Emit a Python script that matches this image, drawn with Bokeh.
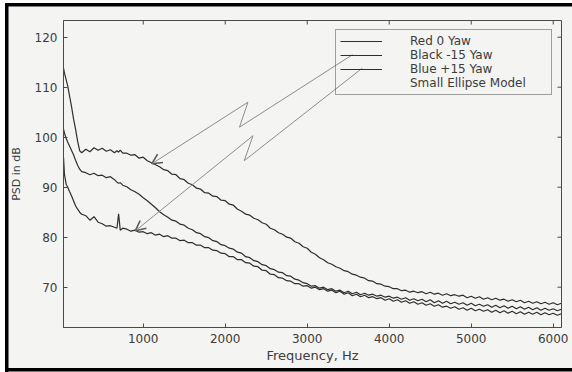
from bokeh.plotting import figure
from bokeh.models import (Range1d, FixedTicker, Legend, LegendItem, Arrow, OpenHead)
from bokeh.embed import file_html
from bokeh.resources import INLINE

# ---------------- data ----------------
FREQ_HEAD = [28, 40, 60, 80, 100, 125, 150, 175, 200, 225, 250, 300, 350, 400,
             450, 500, 550, 600, 650, 680, 700, 720, 750]
FREQ_TAIL = list(range(800, 6101, 50))
freq = FREQ_HEAD + FREQ_TAIL

# Black -15 Yaw (upper curve)
black_head = [113.8, 112.8, 111.5, 110.2, 108.4, 106.2, 103.7, 101.6, 99.2, 97.3,
              96.9, 97.6, 97.1, 97.9, 97.4, 97.8, 97.2, 97.5, 96.9, 97.3, 97.0, 97.4, 96.8]
black_tail = [96.8, 96.4, 96.5, 95.8, 96.0, 95.3, 94.9, 94.5, 94.1, 93.5,
              93.3, 92.6, 92.5, 91.7, 91.5, 90.8, 90.5, 89.8, 89.6, 88.9,
              88.8, 88.2, 88.1, 87.4, 87.3, 86.6, 86.4, 85.6, 85.2, 84.6,
              84.4, 83.8, 83.5, 82.9, 82.6, 81.8, 81.5, 80.9, 80.6, 80.0,
              79.8, 79.1, 78.8, 78.1, 77.8, 77.0, 76.6, 75.9, 75.5, 74.9,
              74.6, 74.1, 73.8, 73.3, 73.1, 72.6, 72.4, 72.0, 71.8, 71.3,
              71.2, 70.7, 70.6, 70.2, 70.1, 69.7, 69.7, 69.3, 69.4, 69.0,
              69.2, 68.9, 69.1, 68.7, 69.0, 68.6, 68.8, 68.4, 68.7, 68.3,
              68.5, 68.2, 68.4, 67.9, 68.2, 67.8, 68.1, 67.6, 67.9, 67.5,
              67.8, 67.4, 67.6, 67.2, 67.5, 67.1, 67.4, 66.9, 67.2, 66.8,
              67.1, 66.7, 67.0, 66.6, 66.9, 66.5, 66.8]

# Red 0 Yaw (middle curve)
red_head = [101.6, 100.8, 99.8, 99.0, 98.3, 97.4, 96.5, 95.4, 94.4, 93.6,
            93.1, 92.9, 92.5, 92.8, 92.3, 92.4, 91.9, 92.1, 91.5, 91.0, 90.8, 90.9, 90.4]
red_tail = [90.1, 89.5, 89.1, 88.6, 87.9, 87.3, 86.6, 85.9, 85.1, 84.5,
            84.0, 83.4, 83.2, 82.6, 82.4, 81.8, 81.5, 80.9, 80.7, 80.1,
            79.9, 79.3, 79.1, 78.5, 78.3, 77.8, 77.6, 77.0, 76.8, 76.1,
            75.9, 75.3, 75.1, 74.5, 74.3, 73.7, 73.5, 73.0, 72.9, 72.3,
            72.2, 71.6, 71.4, 70.9, 70.7, 70.2, 70.3, 69.8, 70.0, 69.5,
            69.7, 69.2, 69.4, 68.9, 69.2, 68.7, 69.0, 68.5, 68.8, 68.4,
            68.6, 68.2, 68.4, 68.0, 68.2, 67.8, 68.0, 67.6, 67.9, 67.4,
            67.7, 67.3, 67.6, 67.1, 67.5, 66.9, 67.3, 66.8, 67.2, 66.7,
            67.0, 66.6, 66.9, 66.4, 66.8, 66.3, 66.6, 66.2, 66.5, 66.0,
            66.4, 65.9, 66.3, 65.8, 66.2, 65.7, 66.1, 65.6, 66.0, 65.5,
            65.9, 65.4, 65.8, 65.4, 65.7, 65.3, 65.6]

# Blue +15 Yaw (lower curve)
blue_head = [96.0, 92.5, 90.6, 90.0, 89.2, 88.3, 87.3, 86.3, 85.6, 85.0,
             84.6, 84.3, 83.4, 84.1, 83.0, 82.7, 82.2, 82.3, 82.0, 81.8, 84.7, 81.4, 81.8]
blue_tail = [81.6, 81.2, 81.4, 81.0, 81.1, 80.7, 80.9, 80.4, 80.6, 80.1,
             80.3, 79.8, 79.8, 79.3, 79.4, 78.9, 78.9, 78.4, 78.4, 77.9,
             77.9, 77.4, 77.3, 76.8, 76.7, 76.1, 76.1, 75.5, 75.5, 74.9,
             74.8, 74.2, 74.1, 73.4, 73.3, 72.6, 72.5, 71.9, 71.8, 71.3,
             71.2, 70.7, 70.7, 70.2, 70.3, 69.8, 70.0, 69.5, 69.7, 69.2,
             69.4, 68.9, 69.2, 68.6, 68.9, 68.3, 68.6, 68.1, 68.4, 67.9,
             68.1, 67.7, 67.9, 67.4, 67.7, 67.2, 67.5, 67.0, 67.3, 66.8,
             67.1, 66.6, 66.9, 66.4, 66.7, 66.2, 66.5, 66.0, 66.2, 65.8,
             66.1, 65.6, 65.9, 65.4, 65.8, 65.3, 65.6, 65.2, 65.5, 65.0,
             65.4, 64.9, 65.3, 64.8, 65.2, 64.7, 65.1, 64.6, 65.0, 64.6,
             65.0, 64.5, 64.9, 64.5, 64.8, 64.4, 64.7]

black_db = black_head + black_tail
red_db = red_head + red_tail
blue_db = blue_head + blue_tail

legend_labels = ["Red 0 Yaw", "Black -15 Yaw", "Blue +15 Yaw", "Small Ellipse Model"]
x_ticks = [1000, 2000, 3000, 4000, 5000, 6000]
y_ticks = [70, 80, 90, 100, 110, 120]

# annotation arrows (zig-zag), data units
arrow_black_f = [3552, 2174, 2277, 1106]
arrow_black_db = [116.5, 102.0, 107.0, 94.7]
arrow_blue_f = [3671, 2232, 2339, 906]
arrow_blue_db = [113.8, 95.3, 100.3, 81.3]

# ---------------- figure ----------------
X0, X1 = 28, 6101
Y0, Y1 = 61.94, 123.34
W, H = 572, 372
ML, MR, MT, MB = 63, 11, 20, 45
FW, FH = W - ML - MR, H - MT - MB

BG = "#f4f4f2"
CURVE = "#2e2e2e"
AXIS = "#4a4a4a"
TXT = "#3c3c3c"
FONT = "DejaVu Sans"

p = figure(width=W, height=H, output_backend="svg", toolbar_location=None,
           x_range=Range1d(X0, X1), y_range=Range1d(Y0, Y1),
           min_border_left=ML, min_border_right=MR, min_border_top=MT,
           min_border_bottom=MB)
p.background_fill_color = BG
# transparent border area: the scanned page and its black frame (left, top,
# bottom) are painted as CSS background layers behind the canvas
p.border_fill_alpha = 0
p.styles = {
    "background-color": "#ffffff",
    "background-image": ("linear-gradient(#000000, #000000), "
                         "linear-gradient(#000000, #000000), "
                         "linear-gradient(#000000, #000000), "
                         "linear-gradient(%s, %s)" % (BG, BG)),
    "background-size": "3.5px 369px, 567px 3.5px, 567px 3.5px, 567px 369px",
    "background-position": "5px 2.5px, 5px 2.5px, 5px 368px, 5px 2.5px",
    "background-repeat": "no-repeat",
}
p.outline_line_color = AXIS
p.grid.visible = False

for ax in (p.xaxis[0], p.yaxis[0]):
    ax.axis_line_color = AXIS
    ax.major_tick_line_color = AXIS
    ax.major_tick_in = 4
    ax.major_tick_out = 0
    ax.minor_tick_line_color = None
    ax.major_label_text_font = FONT
    ax.major_label_text_font_size = "12px"
    ax.major_label_text_color = TXT
    ax.axis_label_text_font = FONT
    ax.axis_label_text_font_style = "normal"
    ax.axis_label_text_color = TXT

p.xaxis[0].ticker = FixedTicker(ticks=x_ticks)
p.yaxis[0].ticker = FixedTicker(ticks=y_ticks)
p.xaxis[0].axis_label = "Frequency, Hz"
p.xaxis[0].axis_label_text_font_size = "13px"
p.xaxis[0].major_label_standoff = 6
p.xaxis[0].axis_label_standoff = 2
p.yaxis[0].axis_label = "PSD in dB"
p.yaxis[0].axis_label_text_font_size = "11px"
p.yaxis[0].major_label_standoff = 6
p.yaxis[0].axis_label_standoff = 9

# inward ticks on the top and right edges (box on), 4 px long
tick_dx = 4 * (X1 - X0) / FW
tick_dy = 4 * (Y1 - Y0) / FH
p.segment(x0=x_ticks, y0=[Y1] * len(x_ticks), x1=x_ticks, y1=[Y1 - tick_dy] * len(x_ticks),
          line_color=AXIS, line_width=1)
p.segment(x0=[X1] * len(y_ticks), y0=y_ticks, x1=[X1 - tick_dx] * len(y_ticks), y1=y_ticks,
          line_color=AXIS, line_width=1)

r_red = p.line(freq, red_db, line_color=CURVE, line_width=1.2)
r_black = p.line(freq, black_db, line_color=CURVE, line_width=1.2)
r_blue = p.line(freq, blue_db, line_color=CURVE, line_width=1.2)
r_none = p.line([], [], line_color=CURVE, line_alpha=0)

# arrows
ARROW = "#8c8c8c"
p.line(arrow_black_f[:3], arrow_black_db[:3], line_color=ARROW, line_width=1)
p.line(arrow_blue_f[:3], arrow_blue_db[:3], line_color=ARROW, line_width=1)
for fs, ds in ((arrow_black_f, arrow_black_db), (arrow_blue_f, arrow_blue_db)):
    p.add_layout(Arrow(end=OpenHead(size=10, line_color="#5a5a5a", line_width=1.6),
                       x_start=fs[2], y_start=ds[2], x_end=fs[3], y_end=ds[3],
                       line_color=ARROW, line_width=1))

legend = Legend(items=[LegendItem(label=legend_labels[0], renderers=[r_red]),
                       LegendItem(label=legend_labels[1], renderers=[r_black]),
                       LegendItem(label=legend_labels[2], renderers=[r_blue]),
                       LegendItem(label=legend_labels[3], renderers=[r_none])],
                location="top_right", margin=9, padding=4, spacing=0,
                label_height=12, glyph_height=12, glyph_width=42,
                label_standoff=28, label_width=137,
                label_text_font=FONT, label_text_font_size="12px",
                label_text_color=TXT, border_line_color=AXIS,
                background_fill_alpha=0)
p.add_layout(legend)

open("out.html", "w").write(file_html(p, INLINE))
